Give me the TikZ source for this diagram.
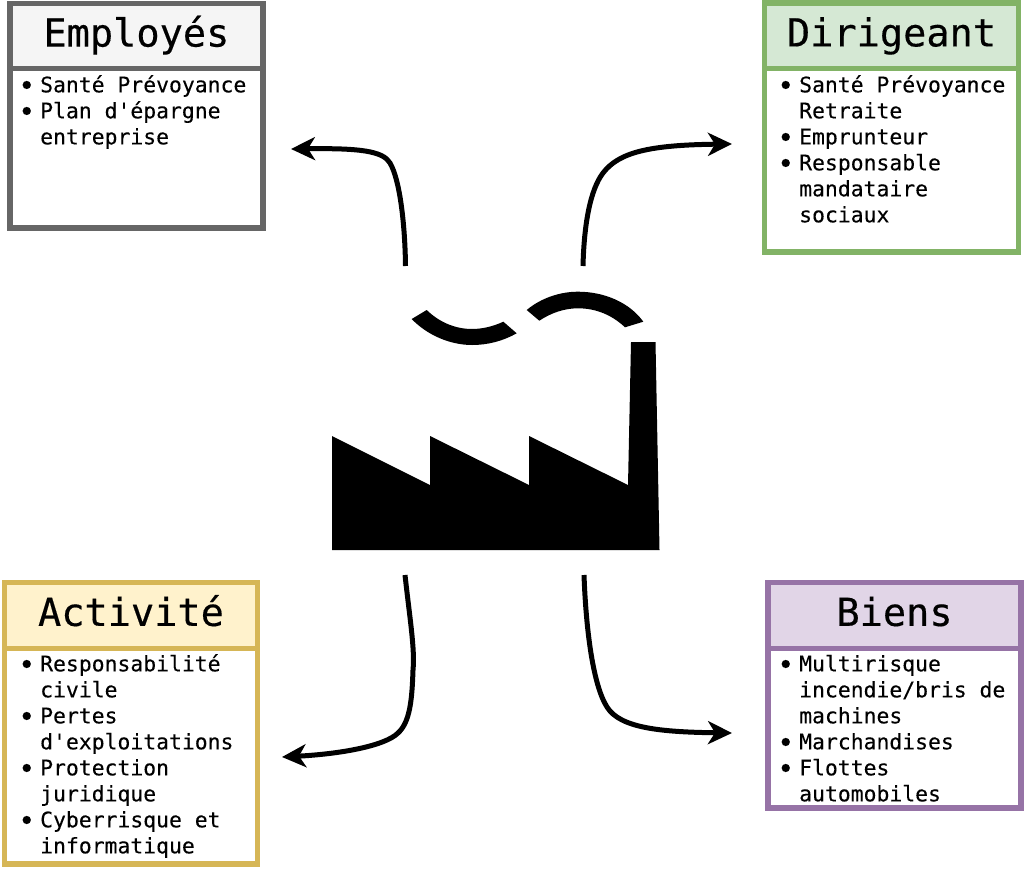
\documentclass[tikz,border=0pt]{standalone}
\usepackage{graphicx}
\usepackage{fontspec}
\setmonofont{DejaVu Sans Mono}
\newfontfamily\titlefont[FakeBold=0.35]{DejaVu Sans Mono}
\newfontfamily\itemfont[FakeBold=0.2]{DejaVu Sans Mono}
\usetikzlibrary{arrows.meta}
\definecolor{gA}{HTML}{666666}\definecolor{gB}{HTML}{F5F5F5}
\definecolor{vA}{HTML}{82B366}\definecolor{vB}{HTML}{D5E8D4}
\definecolor{jA}{HTML}{D6B656}\definecolor{jB}{HTML}{FFF2CC}
\definecolor{pA}{HTML}{9673A6}\definecolor{pB}{HTML}{E1D5E7}
\newcommand{\bul}{\makebox[21pt][l]{\hspace*{-0.8pt}\raisebox{-3pt}{\scalebox{1.3}{•}}}}
\newcommand{\ind}{\hspace*{21pt}}
\tikzset{
  hdr/.style={draw=#1,line width=5.5pt,inner sep=0pt,text height=29pt,text depth=8pt,font=\titlefont\fontsize{38.6}{38.6}\selectfont},
  bodybox/.style={draw=#1,line width=5.5pt,fill=white,inner sep=0pt},
  items/.style={anchor=north west,align=left,inner sep=0pt,font=\itemfont\fontsize{21.4}{26}\selectfont},
  link/.style={line width=5pt,-{Stealth[length=24pt,width=23pt,inset=7pt]}},
  sz/.style 2 args={minimum width=#1pt,minimum height=#2pt}
}
\begin{document}
\begin{tikzpicture}[x=1pt,y=-1pt]
\useasboundingbox (0,0) rectangle (1024,880);
% boxes
\node[bodybox=gA,sz={253.3}{159.3}] (empb) at (136.4,148.4) {};
\node[hdr=gA,fill=gB,sz={253.3}{65.2}] (emp) at (136.4,36.1) {Employés};
\node[items] (empt) at (19,75) {\bul Santé Prévoyance\\\bul Plan d'épargne\\\ind entreprise};
\node[bodybox=vA,sz={253.9}{183.3}] (dirb) at (891.5,160.4) {};
\node[hdr=vA,fill=vB,sz={253.9}{65.7}] (dir) at (891.5,35.9) {Dirigeant};
\node[items] (dirt) at (778,75) {\bul Santé Prévoyance\\\ind Retraite\\\bul Emprunteur\\\bul Responsable\\\ind mandataire\\\ind sociaux};
\node[bodybox=jA,sz={253}{215.7}] (actb) at (131,756.2) {};
\node[hdr=jA,fill=jB,sz={253}{65.8}] (act) at (131,615.4) {Activité};
\node[items] (actt) at (19,654) {\bul Responsabilité\\\ind civile\\\bul Pertes\\\ind d'exploitations\\\bul Protection\\\ind juridique\\\bul Cyberrisque et\\\ind informatique};
\node[bodybox=pA,sz={253}{159.7}] (bieb) at (894.5,728.2) {};
\node[hdr=pA,fill=pB,sz={253}{65.8}] (bie) at (894.5,615.4) {Biens};
\node[items] (biet) at (778,654) {\vphantom{é}\bul Multirisque\\\ind incendie/bris de\\\ind machines\\\bul Marchandises\\\bul Flottes\\\ind automobiles};
% factory
\fill[black] (332,550) -- (332,436) -- (430,485) -- (430,436) -- (529,485) -- (529,436) -- (628,485) -- (631,342) -- (655.5,342) -- (659.5,550) -- cycle;
\fill[black] (411.7,319) .. controls (427,335) and (450,345) .. (472,345) .. controls (488,345) and (503,341) .. (516.7,333.3) -- (503.3,321.7) .. controls (493,326.5) and (482,329) .. (472,329) .. controls (455,329) and (439,322) .. (426.7,310) -- cycle;
\fill[black] (526.7,310) .. controls (541,298) and (560,291.7) .. (578,291.7) .. controls (605,291.7) and (630,303) .. (643.3,321.7) -- (625,327.3) .. controls (612,315) and (596,308.3) .. (578,308.3) .. controls (564,308.3) and (551,313) .. (539.3,320.7) -- cycle;
% connectors
\coordinate (a1) at (405.5,266);
\coordinate (a2) at (583,266);
\coordinate (a3) at (405,575);
\coordinate (a4) at (584,575);
\coordinate (e1) at (291,149);
\coordinate (e2) at (732,144);
\coordinate (e3) at (282,757);
\coordinate (e4) at (732,733);
\draw[link] (a1) .. controls (405,225) and (400,180) .. (390,163) .. controls (383,151) and (360,148) .. (e1);
\draw[link] (a2) .. controls (584,225) and (590,190) .. (603,173) .. controls (619,152) and (650,145) .. (e2);
\draw[link] (a3) .. controls (410,620) and (415,650) .. (413,670) .. controls (412,700) and (410,722) .. (398,733) .. controls (385,746) and (340,754) .. (e3);
\draw[link] (a4) .. controls (586,630) and (593,685) .. (607,707) .. controls (620,728) and (660,732) .. (e4);
\end{tikzpicture}
\end{document}
